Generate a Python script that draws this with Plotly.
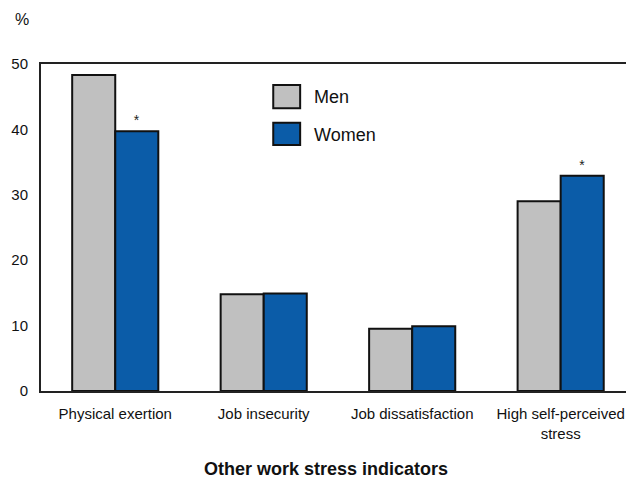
import plotly.graph_objects as go

categories = ["Physical exertion", "Job insecurity", "Job dissatisfaction", "High self-perceived<br>stress"]
men = [48.3, 14.8, 9.5, 29.0]
women = [39.7, 14.9, 9.9, 32.9]
women_flags = ["*", "", "", "*"]
series_names = ["Men", "Women"]
y_ticks = [0, 10, 20, 30, 40, 50]

MEN_COLOR = "#c0c0c0"
WOMEN_COLOR = "#0b5ca8"
FONT = "Liberation Sans, Arial, sans-serif"

fig = go.Figure()
fig.add_trace(go.Bar(x=categories, y=men, name=series_names[0],
                     marker=dict(color=MEN_COLOR, line=dict(color="#111111", width=2)),
                     showlegend=False))
fig.add_trace(go.Bar(x=categories, y=women, name=series_names[1],
                     marker=dict(color=WOMEN_COLOR, line=dict(color="#111111", width=2)),
                     text=women_flags, textposition="outside", cliponaxis=False,
                     textfont=dict(size=14, color="#222222"),
                     showlegend=False))

fig.update_layout(
    width=626, height=481,
    margin=dict(l=41, r=0, t=64, b=90),
    paper_bgcolor="white", plot_bgcolor="white",
    barmode="group", bargap=0.42, bargroupgap=0,
    font=dict(family=FONT, color="#111111"),
    xaxis=dict(range=[-0.5, 3.44], showline=True, linecolor="#222222", linewidth=2,
               mirror=True, showgrid=False, ticks="", tickfont=dict(size=15),
               ticklabelstandoff=8, fixedrange=True),
    yaxis=dict(range=[0, 50], tickvals=y_ticks, showline=True, linecolor="#222222",
               linewidth=2, showgrid=False, zeroline=False, ticks="",
               ticklabelstandoff=8, tickfont=dict(size=15)),
)

# Manual legend
legend_rows = [(series_names[0], MEN_COLOR, 0.865, 0.936, 0.899),
               (series_names[1], WOMEN_COLOR, 0.752, 0.820, 0.783)]
for name, col, y0, y1, ty in legend_rows:
    fig.add_shape(type="rect", xref="paper", yref="paper", x0=0.397, x1=0.443, y0=y0, y1=y1,
                  fillcolor=col, line=dict(color="#111111", width=2))
    fig.add_annotation(xref="paper", yref="paper", x=0.463, y=ty, text=name, showarrow=False,
                       xanchor="left", yanchor="middle", font=dict(size=18, color="#111111"))

fig.add_annotation(xref="paper", yref="paper", x=-0.032, y=1.135, text="%", showarrow=False,
                   xanchor="center", yanchor="middle", font=dict(size=16, color="#111111"))
fig.add_annotation(xref="paper", yref="paper", x=0.487, y=-0.240, text="<b>Other work stress indicators</b>",
                   showarrow=False, xanchor="center", yanchor="middle", font=dict(size=18, color="#111111"))

fig.write_html("out.html")
